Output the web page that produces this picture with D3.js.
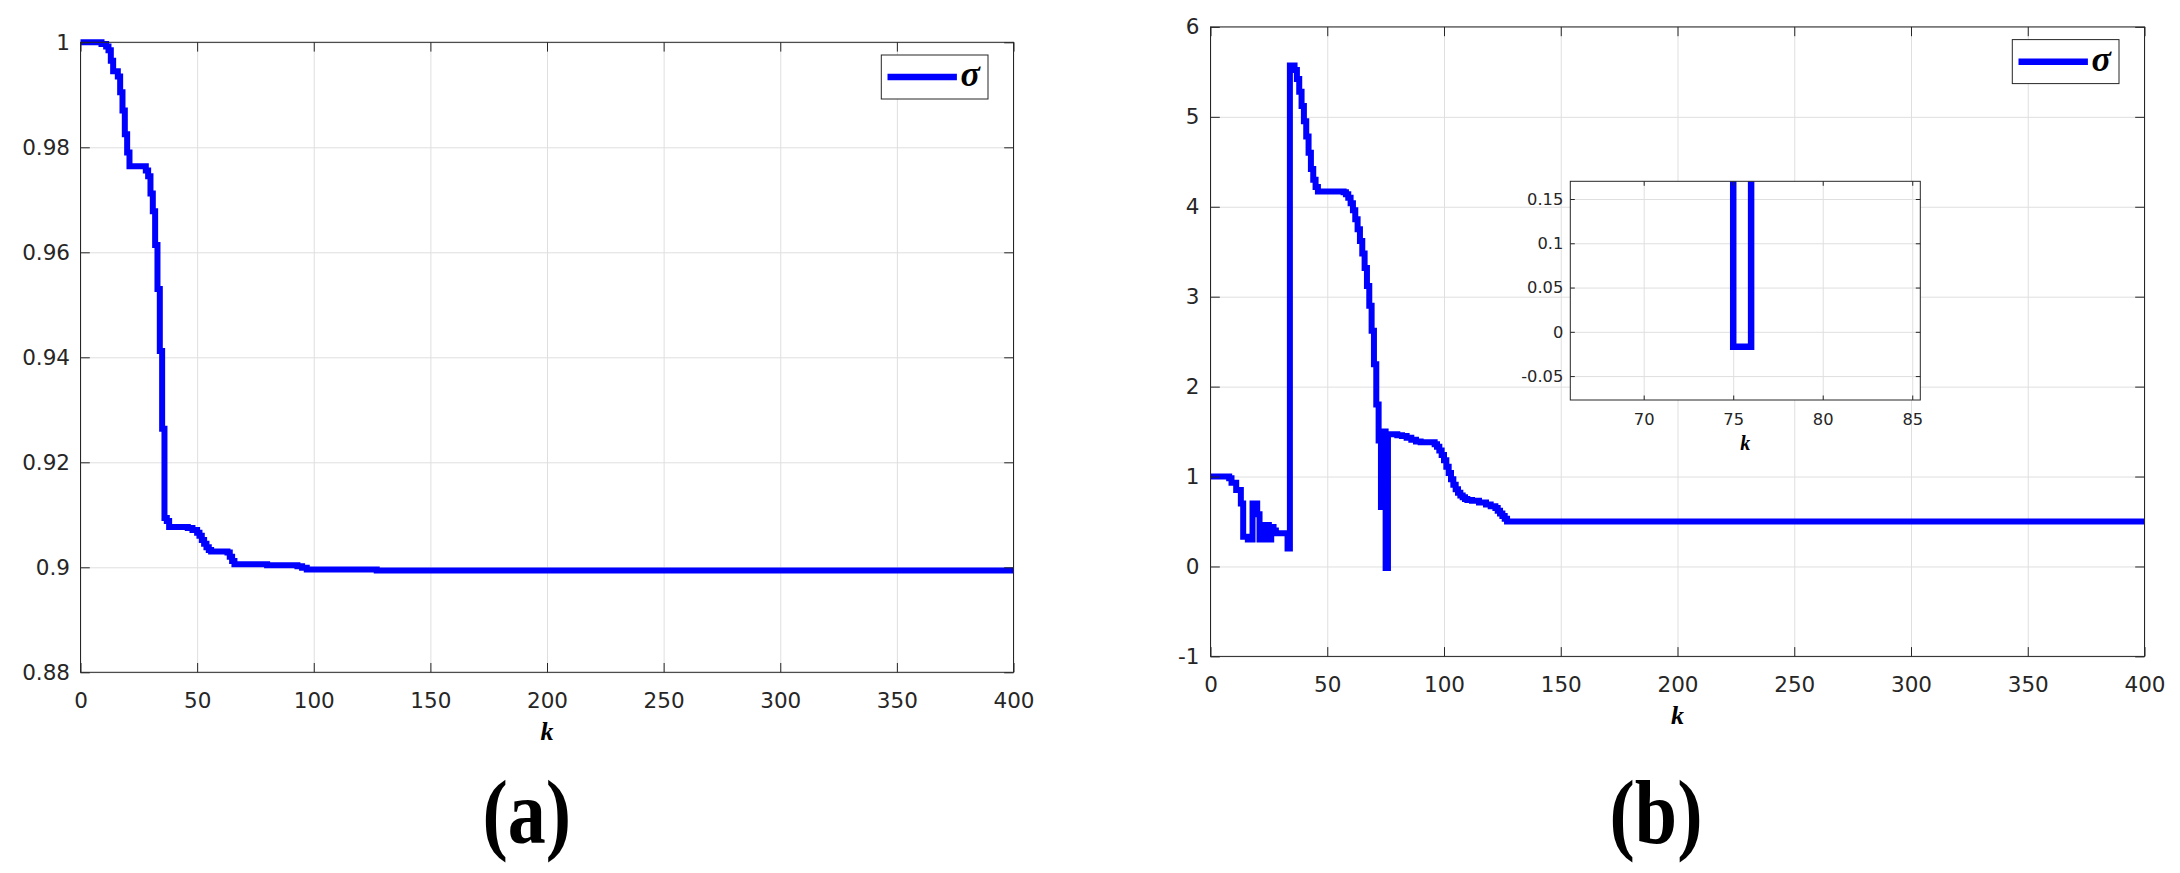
<!DOCTYPE html>
<html><head><meta charset="utf-8">
<script src="https://cdn.jsdelivr.net/npm/d3@7"></script>
<style>html,body{margin:0;padding:0;background:#fff;} svg{display:block}</style>
</head><body>
<svg id="chart" width="2180" height="873"></svg>
<script>
// ---------------- data ----------------
const xTicks = [0, 50, 100, 150, 200, 250, 300, 350, 400];
const xTickLabels = ["0", "50", "100", "150", "200", "250", "300", "350", "400"];
const yTicksA = [0.88, 0.9, 0.92, 0.94, 0.96, 0.98, 1];
const yTickLabelsA = ["0.88", "0.9", "0.92", "0.94", "0.96", "0.98", "1"];
const yTicksB = [-1, 0, 1, 2, 3, 4, 5, 6];
const yTickLabelsB = ["-1", "0", "1", "2", "3", "4", "5", "6"];
const insetXTicks = [70, 75, 80, 85];
const insetXTickLabels = ["70", "75", "80", "85"];
const insetYTicks = [-0.05, 0, 0.05, 0.1, 0.15];
const insetYTickLabels = ["-0.05", "0", "0.05", "0.1", "0.15"];
const xDomain = [0, 400];
const yDomainA = [0.88, 1];
const yDomainB = [-1, 6];
const insetXDomain = [65.9, 85.45];
const insetYDomain = [-0.077, 0.17];
const xLabel = "k";
const seriesName = "σ";
const panelLabels = ["(a)", "(b)"];

// panel (a): step series, value holds from k until next k
const kA = [0, 9, 11, 12, 13, 14, 16, 17, 18, 19, 20, 21, 28, 29, 30, 31, 32, 33, 34, 35,
            36, 37, 38, 46, 48, 50, 51, 52, 53, 54, 55, 56, 63, 64, 65, 66, 80, 93, 95, 97, 127, 400];
const sigmaA = [1.0, 0.9997, 0.9992, 0.9985, 0.9965, 0.9945, 0.9935, 0.9905, 0.987, 0.9825,
                0.979, 0.9764, 0.9756, 0.9745, 0.9712, 0.9678, 0.9614, 0.953, 0.9412, 0.9264,
                0.9094, 0.9088, 0.9077, 0.9075, 0.9071, 0.9066, 0.906, 0.9052, 0.9045, 0.9038,
                0.9033, 0.903, 0.9028, 0.902, 0.9012, 0.9006, 0.9004, 0.9002, 0.8999, 0.8996, 0.8994, 0.8994];

// panel (b)
const kB = [0, 8, 9, 11, 13, 14, 16, 18, 20, 21, 22, 23, 24, 25, 26, 27, 28, 33, 34, 36,
            37, 38, 39, 40, 41, 42, 43, 44, 45, 46, 57, 58, 59, 60, 61, 62, 63, 64, 65, 66,
            67, 68, 69, 70, 71, 72, 73, 74, 75, 76, 80, 82, 84, 86, 88, 90, 96, 97, 98, 99,
            100, 101, 102, 103, 104, 105, 106, 107, 108, 109, 110, 112, 115, 118, 120, 122, 123, 124, 125, 126,
            127, 400];
const sigmaB = [1.0, 0.98, 0.93, 0.85, 0.70, 0.33, 0.30, 0.70, 0.58, 0.30, 0.46, 0.30, 0.46, 0.30, 0.44, 0.40, 0.37, 0.20, 5.57, 5.52,
                5.42, 5.28, 5.12, 4.95, 4.78, 4.60, 4.42, 4.30, 4.22, 4.17, 4.16, 4.14, 4.10, 4.04, 3.96, 3.86, 3.75, 3.62, 3.48, 3.32,
                3.12, 2.90, 2.62, 2.25, 1.80, 1.40, 0.66, 1.50, -0.017, 1.47, 1.46, 1.45, 1.43, 1.41, 1.39, 1.38, 1.36, 1.33, 1.29, 1.24,
                1.18, 1.11, 1.04, 0.97, 0.91, 0.86, 0.82, 0.79, 0.77, 0.75, 0.74, 0.73, 0.71, 0.69, 0.67, 0.65, 0.62, 0.59, 0.56, 0.53,
                0.50, 0.50];

// ---------------- drawing ----------------
const AX = "#262626", GRID = "#dfdfdf", BLUE = "#0000ff";
const SANS = "'DejaVu Sans', sans-serif";
const SERIF = "'Liberation Serif', 'Times New Roman', serif";
const svg = d3.select("#chart");
svg.append("rect").attr("width", 2180).attr("height", 873).attr("fill", "#fff");

function zip(ks, vs) { return ks.map((k, i) => ({ k: k, v: vs[i] })); }

function drawAxes(g, x, y, o) {
  const [x0, x1] = x.range();
  const [yb, yt] = y.range();
  g.append("rect").attr("x", x0).attr("y", yt).attr("width", x1 - x0).attr("height", yb - yt).attr("fill", "#fff");
  const gx = g.append("g").attr("transform", `translate(0,${yb})`)
    .call(d3.axisBottom(x).tickValues(o.xt).tickSize(-(yb - yt)).tickFormat(""));
  gx.select(".domain").remove();
  gx.selectAll("line").attr("stroke", GRID).attr("stroke-width", 1);
  const gy = g.append("g").attr("transform", `translate(${x0},0)`)
    .call(d3.axisLeft(y).tickValues(o.yt).tickSize(-(x1 - x0)).tickFormat(""));
  gy.select(".domain").remove();
  gy.selectAll("line").attr("stroke", GRID).attr("stroke-width", 1);
}

function drawTicks(g, x, y, o) {
  const [x0, x1] = x.range();
  const [yb, yt] = y.range();
  const style = (sel) => {
    sel.select(".domain").remove();
    sel.selectAll("line").attr("stroke", AX).attr("stroke-width", 1);
    sel.selectAll("text").attr("font-family", SANS).attr("font-size", o.fs).attr("fill", AX);
  };
  g.append("g").attr("transform", `translate(0,${yb})`)
    .call(d3.axisBottom(x).tickValues(o.xt).tickFormat(d => o.xl[o.xt.indexOf(d)])
      .tickSizeInner(-o.tick).tickSizeOuter(0).tickPadding(o.xpad)).call(style);
  g.append("g").attr("transform", `translate(0,${yt})`)
    .call(d3.axisTop(x).tickValues(o.xt).tickFormat("").tickSizeInner(-o.tick).tickSizeOuter(0)).call(style);
  g.append("g").attr("transform", `translate(${x0},0)`)
    .call(d3.axisLeft(y).tickValues(o.yt).tickFormat(d => o.yl[o.yt.indexOf(d)])
      .tickSizeInner(-o.tick).tickSizeOuter(0).tickPadding(o.ypad)).call(style);
  g.append("g").attr("transform", `translate(${x1},0)`)
    .call(d3.axisRight(y).tickValues(o.yt).tickFormat("").tickSizeInner(-o.tick).tickSizeOuter(0)).call(style);
  g.append("rect").attr("x", x0).attr("y", yt).attr("width", x1 - x0).attr("height", yb - yt)
    .attr("fill", "none").attr("stroke", AX).attr("stroke-width", 1);
  g.append("text").attr("x", (x0 + x1) / 2).attr("y", yb + o.klab)
    .attr("text-anchor", "middle").attr("font-family", SERIF).attr("font-style", "italic")
    .attr("font-weight", "bold").attr("font-size", o.kfs).attr("fill", "#000").text(xLabel);
}

function drawLine(g, x, y, data, w, clipId) {
  const line = d3.line().x(d => x(d.k)).y(d => y(d.v)).curve(d3.curveStepAfter);
  const p = g.append("path").datum(data).attr("d", line).attr("fill", "none")
    .attr("stroke", BLUE).attr("stroke-width", w).attr("stroke-linejoin", "miter").attr("stroke-linecap", "butt");
  if (clipId) p.attr("clip-path", `url(#${clipId})`);
}

function drawLegend(g, x, y) {
  const xr = x.range()[1], yt = y.range()[1];
  g.append("rect").attr("x", xr - 132.2).attr("y", yt + 12.7).attr("width", 106.7).attr("height", 44)
    .attr("fill", "#fff").attr("stroke", AX).attr("stroke-width", 1);
  g.append("line").attr("x1", xr - 126).attr("x2", xr - 56.6).attr("y1", yt + 34.8).attr("y2", yt + 34.8)
    .attr("stroke", BLUE).attr("stroke-width", 6.5);
  g.append("text").attr("x", xr - 53).attr("y", yt + 44).attr("font-family", SERIF)
    .attr("font-style", "italic").attr("font-weight", "bold").attr("font-size", 36).attr("fill", "#000").text(seriesName);
}

function panelLabel(x, y, txt) {
  svg.append("text").attr("transform", `translate(${x},${y}) scale(1,1.2)`)
    .attr("text-anchor", "middle").attr("font-family", SERIF).attr("font-weight", "bold")
    .attr("font-size", 76).attr("fill", "#000").text(txt);
}

// ---- panel (a)
const xA = d3.scaleLinear().domain(xDomain).range([80.5, 1013.5]);
const yA = d3.scaleLinear().domain(yDomainA).range([672.3, 42.3]);
const gA = svg.append("g");
drawAxes(gA, xA, yA, { xt: xTicks, yt: yTicksA });
drawLine(gA, xA, yA, zip(kA, sigmaA), 6);
drawTicks(gA, xA, yA, { xt: xTicks, xl: xTickLabels, yt: yTicksA, yl: yTickLabelsA, fs: 21.5, tick: 9.3, xpad: 20.8, ypad: 10.5, klab: 67.7, kfs: 26 });
drawLegend(gA, xA, yA);
panelLabel(526.7, 843.3, panelLabels[0]);

// ---- panel (b)
const xB = d3.scaleLinear().domain(xDomain).range([1210.5, 2144.5]);
const yB = d3.scaleLinear().domain(yDomainB).range([656.4, 26.9]);
const gB = svg.append("g");
drawAxes(gB, xB, yB, { xt: xTicks, yt: yTicksB });
drawLine(gB, xB, yB, zip(kB, sigmaB), 6);
drawTicks(gB, xB, yB, { xt: xTicks, xl: xTickLabels, yt: yTicksB, yl: yTickLabelsB, fs: 21.5, tick: 9.3, xpad: 20.8, ypad: 11, klab: 67.7, kfs: 26 });
drawLegend(gB, xB, yB);
panelLabel(1656, 843.3, panelLabels[1]);

// ---- inset in (b)
const xI = d3.scaleLinear().domain(insetXDomain).range([1570.3, 1920.3]);
const yI = d3.scaleLinear().domain(insetYDomain).range([400, 181.3]);
const gI = svg.append("g");
svg.append("defs").append("clipPath").attr("id", "insetClip").append("rect")
  .attr("x", 1570.3).attr("y", 181.3).attr("width", 350).attr("height", 218.7);
drawAxes(gI, xI, yI, { xt: insetXTicks, yt: insetYTicks });
drawLine(gI, xI, yI, zip(kB, sigmaB), 6.5, "insetClip");
drawTicks(gI, xI, yI, { xt: insetXTicks, xl: insetXTickLabels, yt: insetYTicks, yl: insetYTickLabels, fs: 16.3, tick: 4.5, xpad: 13.6, ypad: 7, klab: 50, kfs: 20 });
</script>
</body></html>
